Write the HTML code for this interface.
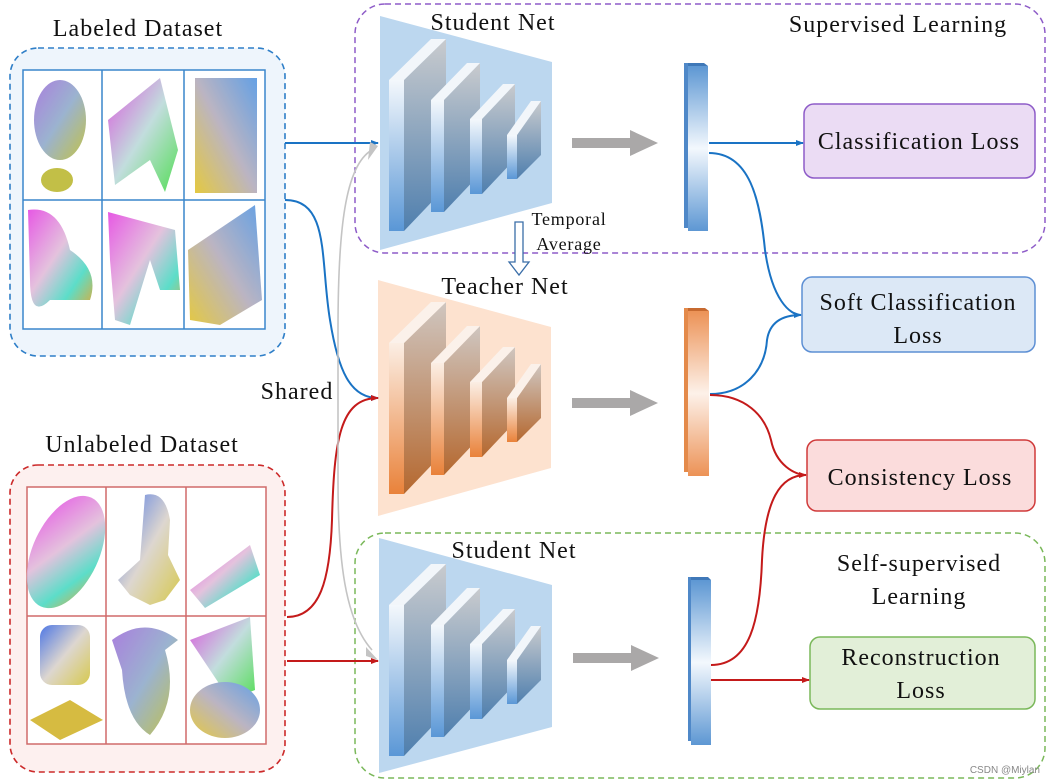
<!DOCTYPE html>
<html><head><meta charset="utf-8"><style>
html,body{margin:0;padding:0;background:#fff;}
svg{display:block;}
text{font-family:"Liberation Serif",serif;fill:#111;}
.t{font-size:24px;letter-spacing:1px;}
</style></head><body>
<svg width="1054" height="783" viewBox="0 0 1054 783" xmlns="http://www.w3.org/2000/svg">
<defs>
<linearGradient id="sideB" x1="0" y1="0" x2="0" y2="1"><stop offset="0" stop-color="#f4f8fc"/><stop offset="1" stop-color="#5a97d6"/></linearGradient>
<linearGradient id="frontB" x1="0" y1="0" x2="0" y2="1"><stop offset="0" stop-color="#c9cbce"/><stop offset="1" stop-color="#4f7fae"/></linearGradient>
<linearGradient id="sideO" x1="0" y1="0" x2="0" y2="1"><stop offset="0" stop-color="#fbeee4"/><stop offset="1" stop-color="#e9823a"/></linearGradient>
<linearGradient id="frontO" x1="0" y1="0" x2="0" y2="1"><stop offset="0" stop-color="#cfc6c0"/><stop offset="1" stop-color="#b5682f"/></linearGradient>
<linearGradient id="barB" x1="0" y1="0" x2="0" y2="1"><stop offset="0" stop-color="#5d97d3"/><stop offset="0.5" stop-color="#f3f8fd"/><stop offset="1" stop-color="#5d97d3"/></linearGradient>
<linearGradient id="barO" x1="0" y1="0" x2="0" y2="1"><stop offset="0" stop-color="#ec9256"/><stop offset="0.5" stop-color="#fdf1e9"/><stop offset="1" stop-color="#ec9256"/></linearGradient>
<linearGradient id="pc1" x1="0" y1="0" x2="1" y2="1"><stop offset="0" stop-color="#9b6ad8"/><stop offset="0.5" stop-color="#8aa6c8"/><stop offset="1" stop-color="#b8b828"/></linearGradient>
<linearGradient id="pc2" x1="0" y1="0" x2="1" y2="1"><stop offset="0" stop-color="#d43cd8"/><stop offset="0.5" stop-color="#b8d8d8"/><stop offset="1" stop-color="#38d83c"/></linearGradient>
<linearGradient id="pc3" x1="0" y1="1" x2="1" y2="0"><stop offset="0" stop-color="#e0c020"/><stop offset="0.5" stop-color="#b0a8b8"/><stop offset="1" stop-color="#4a90e0"/></linearGradient>
<linearGradient id="pc4" x1="0" y1="0" x2="1" y2="1"><stop offset="0" stop-color="#e23ce0"/><stop offset="0.45" stop-color="#e0b8d8"/><stop offset="0.75" stop-color="#40d8c0"/><stop offset="1" stop-color="#d0a020"/></linearGradient>
<linearGradient id="pc5" x1="0" y1="0" x2="1" y2="1"><stop offset="0" stop-color="#3060e0"/><stop offset="0.5" stop-color="#d8d0c8"/><stop offset="1" stop-color="#d0c030"/></linearGradient>
<marker id="ab" markerWidth="8" markerHeight="8" refX="7" refY="4" orient="auto" markerUnits="userSpaceOnUse"><path d="M0,1 L8,4 L0,7z" fill="#1a73c4"/></marker>
<marker id="ar" markerWidth="8" markerHeight="8" refX="7" refY="4" orient="auto" markerUnits="userSpaceOnUse"><path d="M0,1 L8,4 L0,7z" fill="#c41a1a"/></marker>
<g id="layers">
 <rect x="389" y="80" width="15" height="151" fill="url(#sideB)"/>
 <polygon points="404,80 446,39 446,187 404,231" fill="url(#frontB)"/>
 <polygon points="389,80 431,39 446,39 404,80" fill="#f2f6fa"/>
 <rect x="431" y="100" width="13" height="112" fill="url(#sideB)"/>
 <polygon points="444,100 480,63 480,174 444,212" fill="url(#frontB)"/>
 <polygon points="431,100 467,63 480,63 444,100" fill="#f2f6fa"/>
 <rect x="470" y="119" width="12" height="75" fill="url(#sideB)"/>
 <polygon points="482,119 515,84 515,159 482,194" fill="url(#frontB)"/>
 <polygon points="470,119 503,84 515,84 482,119" fill="#f2f6fa"/>
 <rect x="507" y="135" width="10" height="44" fill="url(#sideB)"/>
 <polygon points="517,135 541,101 541,155 517,179" fill="url(#frontB)"/>
 <polygon points="507,135 531,101 541,101 517,135" fill="#f2f6fa"/>
</g>
</defs>

<!-- Labeled dataset -->
<text x="138" y="36" class="t" text-anchor="middle">Labeled Dataset</text>
<rect x="10" y="48" width="275" height="308" rx="28" fill="#eef5fc" stroke="#2f7fc8" stroke-width="1.6" stroke-dasharray="6,4"/>
<rect x="23" y="70" width="242" height="259" fill="#fff" stroke="#3a86cc" stroke-width="1.5"/>
<line x1="102" y1="70" x2="102" y2="329" stroke="#3a86cc" stroke-width="1.5"/>
<line x1="184" y1="70" x2="184" y2="329" stroke="#3a86cc" stroke-width="1.5"/>
<line x1="23" y1="200" x2="265" y2="200" stroke="#3a86cc" stroke-width="1.5"/>
<g opacity="0.85">
<ellipse cx="60" cy="120" rx="26" ry="40" fill="url(#pc1)"/><ellipse cx="57" cy="180" rx="16" ry="12" fill="#b8b428"/>
<polygon points="108,120 160,78 178,150 165,192 150,160 115,185" fill="url(#pc2)"/>
<rect x="195" y="78" width="62" height="115" fill="url(#pc3)"/>
<path d="M28,210 Q60,205 70,250 Q100,270 90,300 L50,300 Q30,320 30,280z" fill="url(#pc4)"/>
<path d="M108,212 L175,230 L180,290 L160,290 L150,260 L130,325 L115,320 L110,260z" fill="url(#pc4)"/>
<polygon points="188,250 255,205 262,300 220,325 190,320" fill="url(#pc3)"/>
</g>

<!-- Unlabeled dataset -->
<text x="142" y="452" class="t" text-anchor="middle">Unlabeled Dataset</text>
<rect x="10" y="465" width="275" height="307" rx="28" fill="#fdf0ef" stroke="#cc2a2a" stroke-width="1.6" stroke-dasharray="6,4"/>
<rect x="27" y="487" width="239" height="257" fill="#fff" stroke="#d06a6a" stroke-width="1.5"/>
<line x1="106" y1="487" x2="106" y2="744" stroke="#d06a6a" stroke-width="1.5"/>
<line x1="186" y1="487" x2="186" y2="744" stroke="#d06a6a" stroke-width="1.5"/>
<line x1="27" y1="616" x2="266" y2="616" stroke="#d06a6a" stroke-width="1.5"/>
<g opacity="0.85">
<ellipse cx="66" cy="552" rx="33" ry="60" fill="url(#pc4)" transform="rotate(25 66 552)"/>
<path d="M145,495 Q165,490 170,520 L168,555 L180,580 L165,600 L150,605 L130,595 L118,580 L140,560z" fill="url(#pc5)"/>
<polygon points="190,590 250,545 260,575 205,608" fill="url(#pc4)"/>
<rect x="40" y="625" width="50" height="60" rx="12" fill="url(#pc5)"/><polygon points="30,720 70,700 103,720 60,740" fill="#d0b020"/>
<path d="M112,640 Q145,615 178,640 L165,650 Q180,700 150,735 Q125,720 122,670z" fill="url(#pc1)"/>
<polygon points="190,640 250,617 255,690 230,700" fill="url(#pc2)"/><ellipse cx="225" cy="710" rx="35" ry="28" fill="url(#pc3)"/>
</g>

<!-- dashed groups -->
<rect x="355" y="4" width="690" height="249" rx="30" fill="none" stroke="#8e5cc8" stroke-width="1.5" stroke-dasharray="6,4"/>
<rect x="355" y="533" width="690" height="245" rx="30" fill="none" stroke="#7ab85a" stroke-width="1.5" stroke-dasharray="6,4"/>

<!-- nets -->
<polygon points="380,16 552,62 552,203 380,250" fill="#bcd7ef"/>
<use href="#layers"/>
<polygon points="378,280 551,327 551,468 378,516" fill="#fde2cf"/>
<g transform="translate(0,263)">
 <rect x="389" y="80" width="15" height="151" fill="url(#sideO)"/>
 <polygon points="404,80 446,39 446,187 404,231" fill="url(#frontO)"/>
 <polygon points="389,80 431,39 446,39 404,80" fill="#fbf1ea"/>
 <rect x="431" y="100" width="13" height="112" fill="url(#sideO)"/>
 <polygon points="444,100 480,63 480,174 444,212" fill="url(#frontO)"/>
 <polygon points="431,100 467,63 480,63 444,100" fill="#fbf1ea"/>
 <rect x="470" y="119" width="12" height="75" fill="url(#sideO)"/>
 <polygon points="482,119 515,84 515,159 482,194" fill="url(#frontO)"/>
 <polygon points="470,119 503,84 515,84 482,119" fill="#fbf1ea"/>
 <rect x="507" y="135" width="10" height="44" fill="url(#sideO)"/>
 <polygon points="517,135 541,101 541,155 517,179" fill="url(#frontO)"/>
 <polygon points="507,135 531,101 541,101 517,135" fill="#fbf1ea"/>
</g>
<polygon points="379,538 552,585 552,727 379,773" fill="#bcd7ef"/>
<use href="#layers" transform="translate(0,525)"/>

<text x="493" y="30" class="t" text-anchor="middle">Student Net</text>
<text x="505" y="294" class="t" text-anchor="middle">Teacher Net</text>
<text x="514" y="558" class="t" text-anchor="middle">Student Net</text>
<text x="898" y="32" class="t" text-anchor="middle">Supervised Learning</text>
<text x="919" y="571" class="t" text-anchor="middle">Self-supervised</text>
<text x="919" y="604" class="t" text-anchor="middle">Learning</text>
<text x="297" y="399" class="t" text-anchor="middle">Shared</text>
<text x="569" y="225" font-size="18" letter-spacing="0.8" text-anchor="middle">Temporal</text>
<text x="569" y="250" font-size="18" letter-spacing="0.8" text-anchor="middle">Average</text>

<!-- temporal arrow -->
<path d="M515,222 L523,222 L523,262 L529,262 L519,275 L509,262 L515,262z" fill="#fff" stroke="#3a6ea8" stroke-width="1.3"/>

<!-- gray arrows -->
<g fill="#aaa8a8">
<polygon points="572,138 630,138 630,130 658,143 630,156 630,148 572,148"/>
<polygon points="572,398 630,398 630,390 658,403 630,416 630,408 572,408"/>
<polygon points="573,653 631,653 631,645 659,658 631,671 631,663 573,663"/>
</g>

<!-- feature bars -->
<rect x="688" y="66" width="20" height="165" fill="url(#barB)"/><polygon points="684,63 704,63 708,66 688,66" fill="#3f78b8"/><rect x="684" y="63" width="4" height="165" fill="#4f88c8"/>
<rect x="688" y="311" width="21" height="165" fill="url(#barO)"/><polygon points="684,308 705,308 709,311 688,311" fill="#c76a30"/><rect x="684" y="308" width="4" height="164" fill="#e48a4a"/>
<rect x="691" y="580" width="20" height="165" fill="url(#barB)"/><polygon points="688,577 708,577 711,580 691,580" fill="#3f78b8"/><rect x="688" y="577" width="3" height="164" fill="#4f88c8"/>

<!-- loss boxes -->
<rect x="804" y="104" width="231" height="74" rx="10" fill="#ebdcf4" stroke="#8e5cc8" stroke-width="1.5"/>
<text x="919" y="149" class="t" text-anchor="middle">Classification  Loss</text>
<rect x="802" y="277" width="233" height="75" rx="10" fill="#dce8f6" stroke="#5d8fd4" stroke-width="1.5"/>
<text x="918" y="310" class="t" text-anchor="middle">Soft Classification</text>
<text x="918" y="343" class="t" text-anchor="middle">Loss</text>
<rect x="807" y="440" width="228" height="71" rx="10" fill="#fbdcdc" stroke="#d03a3a" stroke-width="1.5"/>
<text x="920" y="485" class="t" text-anchor="middle">Consistency  Loss</text>
<rect x="810" y="637" width="225" height="72" rx="10" fill="#e2efd8" stroke="#7ab85a" stroke-width="1.5"/>
<text x="921" y="665" class="t" text-anchor="middle">Reconstruction</text>
<text x="921" y="698" class="t" text-anchor="middle">Loss</text>

<!-- connectors -->
<g fill="none" stroke-width="2">
<path d="M285,143 L378,143" stroke="#1a73c4" marker-end="url(#ab)"/>
<path d="M285,200 C330,200 320,260 330,320 C338,370 350,398 378,398" stroke="#1a73c4" marker-end="url(#ab)"/>
<path d="M287,617 C320,617 330,580 332,520 C334,440 340,398 378,398" stroke="#c41a1a" marker-end="url(#ar)"/>
<path d="M287,661 L378,661" stroke="#c41a1a" marker-end="url(#ar)"/>
<path d="M372,150 C345,165 338,230 338,330 L338,480 C338,560 345,620 372,650" stroke="#c4c4c4" stroke-width="1.6"/>
<path d="M709,143 L803,143" stroke="#1a73c4" marker-end="url(#ab)"/>
<path d="M709,153 C750,153 760,200 765,250 C772,300 790,315 801,315" stroke="#1a73c4" marker-end="url(#ab)"/>
<path d="M710,394 C745,394 765,370 767,340 C770,320 785,315 801,315" stroke="#1a73c4"/>
<path d="M710,395 C745,395 765,415 771,440 C776,465 795,475 806,475" stroke="#c41a1a" marker-end="url(#ar)"/>
<path d="M711,665 C750,665 760,620 762,560 C765,500 780,475 806,475" stroke="#c41a1a"/>
<path d="M711,680 L809,680" stroke="#c41a1a" marker-end="url(#ar)"/>
</g>
<polygon points="370,142 378,146 368,160" fill="#c4c4c4"/>
<polygon points="366,647 378,660 366,656" fill="#c4c4c4"/>

<text x="1040" y="773" font-size="10" text-anchor="end" style="font-family:'Liberation Sans',sans-serif;fill:#888">CSDN @Miylan</text>
</svg>
</body></html>
